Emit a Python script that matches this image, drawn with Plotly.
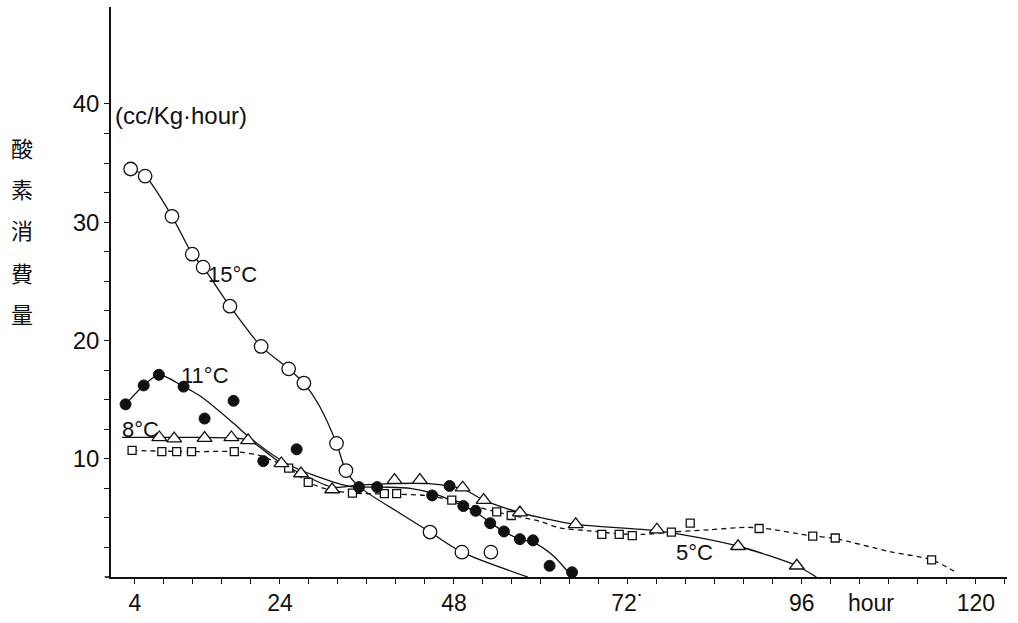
import plotly.graph_objects as go

# ---- measured points ----
h15 = [3.4, 5.4, 9.1, 11.9, 13.4, 17.1, 21.4, 25.2, 27.3, 31.8, 33.1, 44.7, 49.1, 53.1]
v15 = [34.5, 33.9, 30.5, 27.3, 26.2, 22.9, 19.5, 17.6, 16.4, 11.3, 9.0, 3.8, 2.1, 2.1]

h11 = [2.7, 5.2, 7.3, 10.7, 13.6, 17.6, 21.7, 26.3, 34.9, 37.4, 45.0, 47.4, 49.3, 51.0, 53.0, 54.9, 57.1, 58.9, 61.2, 64.3]
v11 = [14.6, 16.2, 17.1, 16.1, 13.4, 14.9, 9.8, 10.8, 7.6, 7.6, 6.9, 7.7, 6.0, 5.6, 4.55, 3.85, 3.2, 3.1, 0.95, 0.4]

h8 = [7.35, 9.4, 13.6, 17.3, 19.6, 24.2, 26.9, 31.2, 39.8, 43.3, 49.2, 52.1, 57.1, 64.8, 76.0, 87.2, 95.3]
v8 = [11.8, 11.7, 11.75, 11.8, 11.55, 9.6, 8.75, 7.4, 8.2, 8.2, 7.55, 6.5, 5.45, 4.45, 4.0, 2.6, 0.95]

h5 = [3.6, 7.7, 9.75, 11.8, 17.7, 25.2, 27.9, 34.0, 38.4, 40.1, 47.7, 53.9, 55.9, 68.4, 70.8, 72.6, 78.0, 80.6, 90.1, 97.5, 100.6, 113.9]
v5 = [10.7, 10.6, 10.6, 10.6, 10.6, 9.2, 8.0, 7.1, 7.05, 7.05, 6.5, 5.5, 5.2, 3.6, 3.6, 3.5, 3.8, 4.55, 4.1, 3.45, 3.3, 1.45]

# ---- hand-drawn fit curves ----
c15_h = [3.4, 5.4, 9.1, 11.9, 13.4, 17.1, 21.4, 25.2, 27.3, 29.5, 31.8, 33.1, 35.0, 40.0, 44.7, 49.1, 58.2]
c15_v = [34.5, 33.9, 30.5, 27.3, 26.2, 22.9, 19.5, 17.6, 16.4, 14.4, 11.3, 9.0, 7.6, 5.6, 3.8, 2.1, 0.0]

c11_h = [2.7, 5.2, 7.3, 10.7, 13.0, 17.6, 19.9, 24.9, 29.1, 33.7, 38.0, 42.0, 45.5, 49.3, 51.0, 53.0, 54.9, 57.1, 59.0, 61.7, 63.5, 64.3]
c11_v = [14.6, 16.2, 17.1, 16.1, 15.3, 13.0, 11.75, 9.6, 8.5, 7.65, 7.6, 7.5, 7.0, 6.0, 5.5, 4.6, 3.85, 3.2, 2.9, 1.8, 0.6, 0.0]

c8_h = [2.2, 7.35, 13.6, 19.6, 22.0, 24.2, 26.9, 31.2, 34.5, 39.8, 44.5, 49.2, 52.1, 57.1, 60.9, 64.8, 76.0, 82.0, 87.2, 91.5, 95.3, 98.0]
c8_v = [11.8, 11.8, 11.8, 11.6, 10.6, 9.6, 8.75, 7.6, 7.75, 7.9, 7.9, 7.45, 6.5, 5.45, 4.9, 4.45, 3.9, 3.3, 2.6, 1.8, 0.95, 0.0]

c5_h = [3.6, 11.8, 17.7, 21.0, 25.2, 27.9, 31.0, 34.0, 40.1, 44.0, 47.7, 53.9, 59.9, 62.6, 66.8, 70.8, 74.0, 78.0, 83.3, 88.4, 91.0, 96.6, 100.6, 108.1, 113.9, 117.0]
c5_v = [10.7, 10.6, 10.6, 10.3, 9.2, 8.0, 7.35, 7.1, 7.0, 6.9, 6.5, 5.5, 4.7, 4.15, 3.9, 3.65, 3.6, 3.8, 4.0, 4.2, 4.1, 3.55, 3.25, 2.15, 1.45, 0.5]

# ---- axis ticks ----
x_tickvals = list(range(4, 125, 4))
x_labels = {4: "4", 24: "24", 48: "48", 72: "72˙", 96: "96", 120: "120"}
y_tickvals = [i * 2.5 for i in range(1, 17)]
y_labels = {10: "10", 20: "20", 30: "30", 40: "40"}
ytitle_chars = ["酸", "素", "消", "費", "量"]
ytitle_pos = [36.4, 32.9, 29.4, 25.8, 22.3]

FONT = "Liberation Sans, Arial, sans-serif"
BLACK = "#111111"

fig = go.Figure()

def curve(hx, vy, dash="solid"):
    fig.add_trace(go.Scatter(x=hx, y=vy, mode="lines",
                             line=dict(color=BLACK, width=1.3, shape="spline", smoothing=0.8, dash=dash),
                             hoverinfo="skip"))

curve(c15_h, c15_v)
curve(c11_h, c11_v)
curve(c8_h, c8_v)
curve(c5_h, c5_v, dash="5px,4px")

fig.add_trace(go.Scatter(x=h5, y=v5, mode="markers",
                         marker=dict(symbol="square", size=8, color="white", line=dict(color=BLACK, width=1.3))))
fig.add_trace(go.Scatter(x=h8, y=v8, mode="markers",
                         marker=dict(symbol="triangle-up", size=13, color="white", line=dict(color=BLACK, width=1.3))))
fig.add_trace(go.Scatter(x=h11, y=v11, mode="markers",
                         marker=dict(symbol="circle", size=11, color=BLACK, line=dict(color=BLACK, width=1))))
fig.add_trace(go.Scatter(x=h15, y=v15, mode="markers",
                         marker=dict(symbol="circle", size=13.5, color="white", line=dict(color=BLACK, width=1.3))))

ann = []
for t, yv in zip(ytitle_chars, ytitle_pos):
    ann.append(dict(text=t, x=-0.0993, xref="paper", y=yv, yref="y", showarrow=False,
                    xanchor="center", yanchor="middle",
                    font=dict(family="Noto Sans CJK JP", size=22, color=BLACK)))
ann.append(dict(text="(cc/Kg·hour)", x=1.0, xref="x", y=39.0, yref="y", showarrow=False,
                xanchor="left", yanchor="middle", font=dict(family=FONT, size=24, color=BLACK)))
ann.append(dict(text="hour", x=105.6, xref="x", y=-0.046, yref="paper", showarrow=False,
                xanchor="center", yanchor="middle", font=dict(family=FONT, size=23, color=BLACK)))
for t, hx, vy in [("15°C", 17.4, 25.6), ("11°C", 13.7, 17.0), ("8°C", 4.7, 12.5), ("5°C", 81.2, 2.1)]:
    ann.append(dict(text=t, x=hx, y=vy, xref="x", yref="y", showarrow=False,
                    xanchor="center", yanchor="middle", font=dict(family=FONT, size=22, color=BLACK)))

fig.update_layout(
    width=1018, height=623,
    margin=dict(l=111, r=11, t=7, b=46),
    plot_bgcolor="white", paper_bgcolor="white",
    showlegend=False,
    annotations=ann,
    xaxis=dict(range=[0.69, 124.3], showgrid=False, zeroline=False, showline=True,
               linecolor=BLACK, linewidth=1.6, ticks="outside", ticklen=5, tickwidth=1.2,
               tickcolor=BLACK, tickvals=x_tickvals,
               ticktext=[x_labels.get(v, "") for v in x_tickvals],
               tickfont=dict(family=FONT, size=23, color=BLACK)),
    yaxis=dict(range=[0, 48.2], showgrid=False, zeroline=False, showline=True,
               linecolor=BLACK, linewidth=1.6, ticks="outside", ticklen=5, tickwidth=1.2,
               tickcolor=BLACK, tickvals=y_tickvals,
               ticktext=[y_labels.get(v, "") for v in y_tickvals],
               tickfont=dict(family=FONT, size=24, color=BLACK)),
    shapes=[dict(type="line", xref="paper", yref="paper", x0=-0.007, x1=0, y0=0, y1=0,
                 line=dict(color=BLACK, width=1.6))],
)

fig.write_html("out.html")
